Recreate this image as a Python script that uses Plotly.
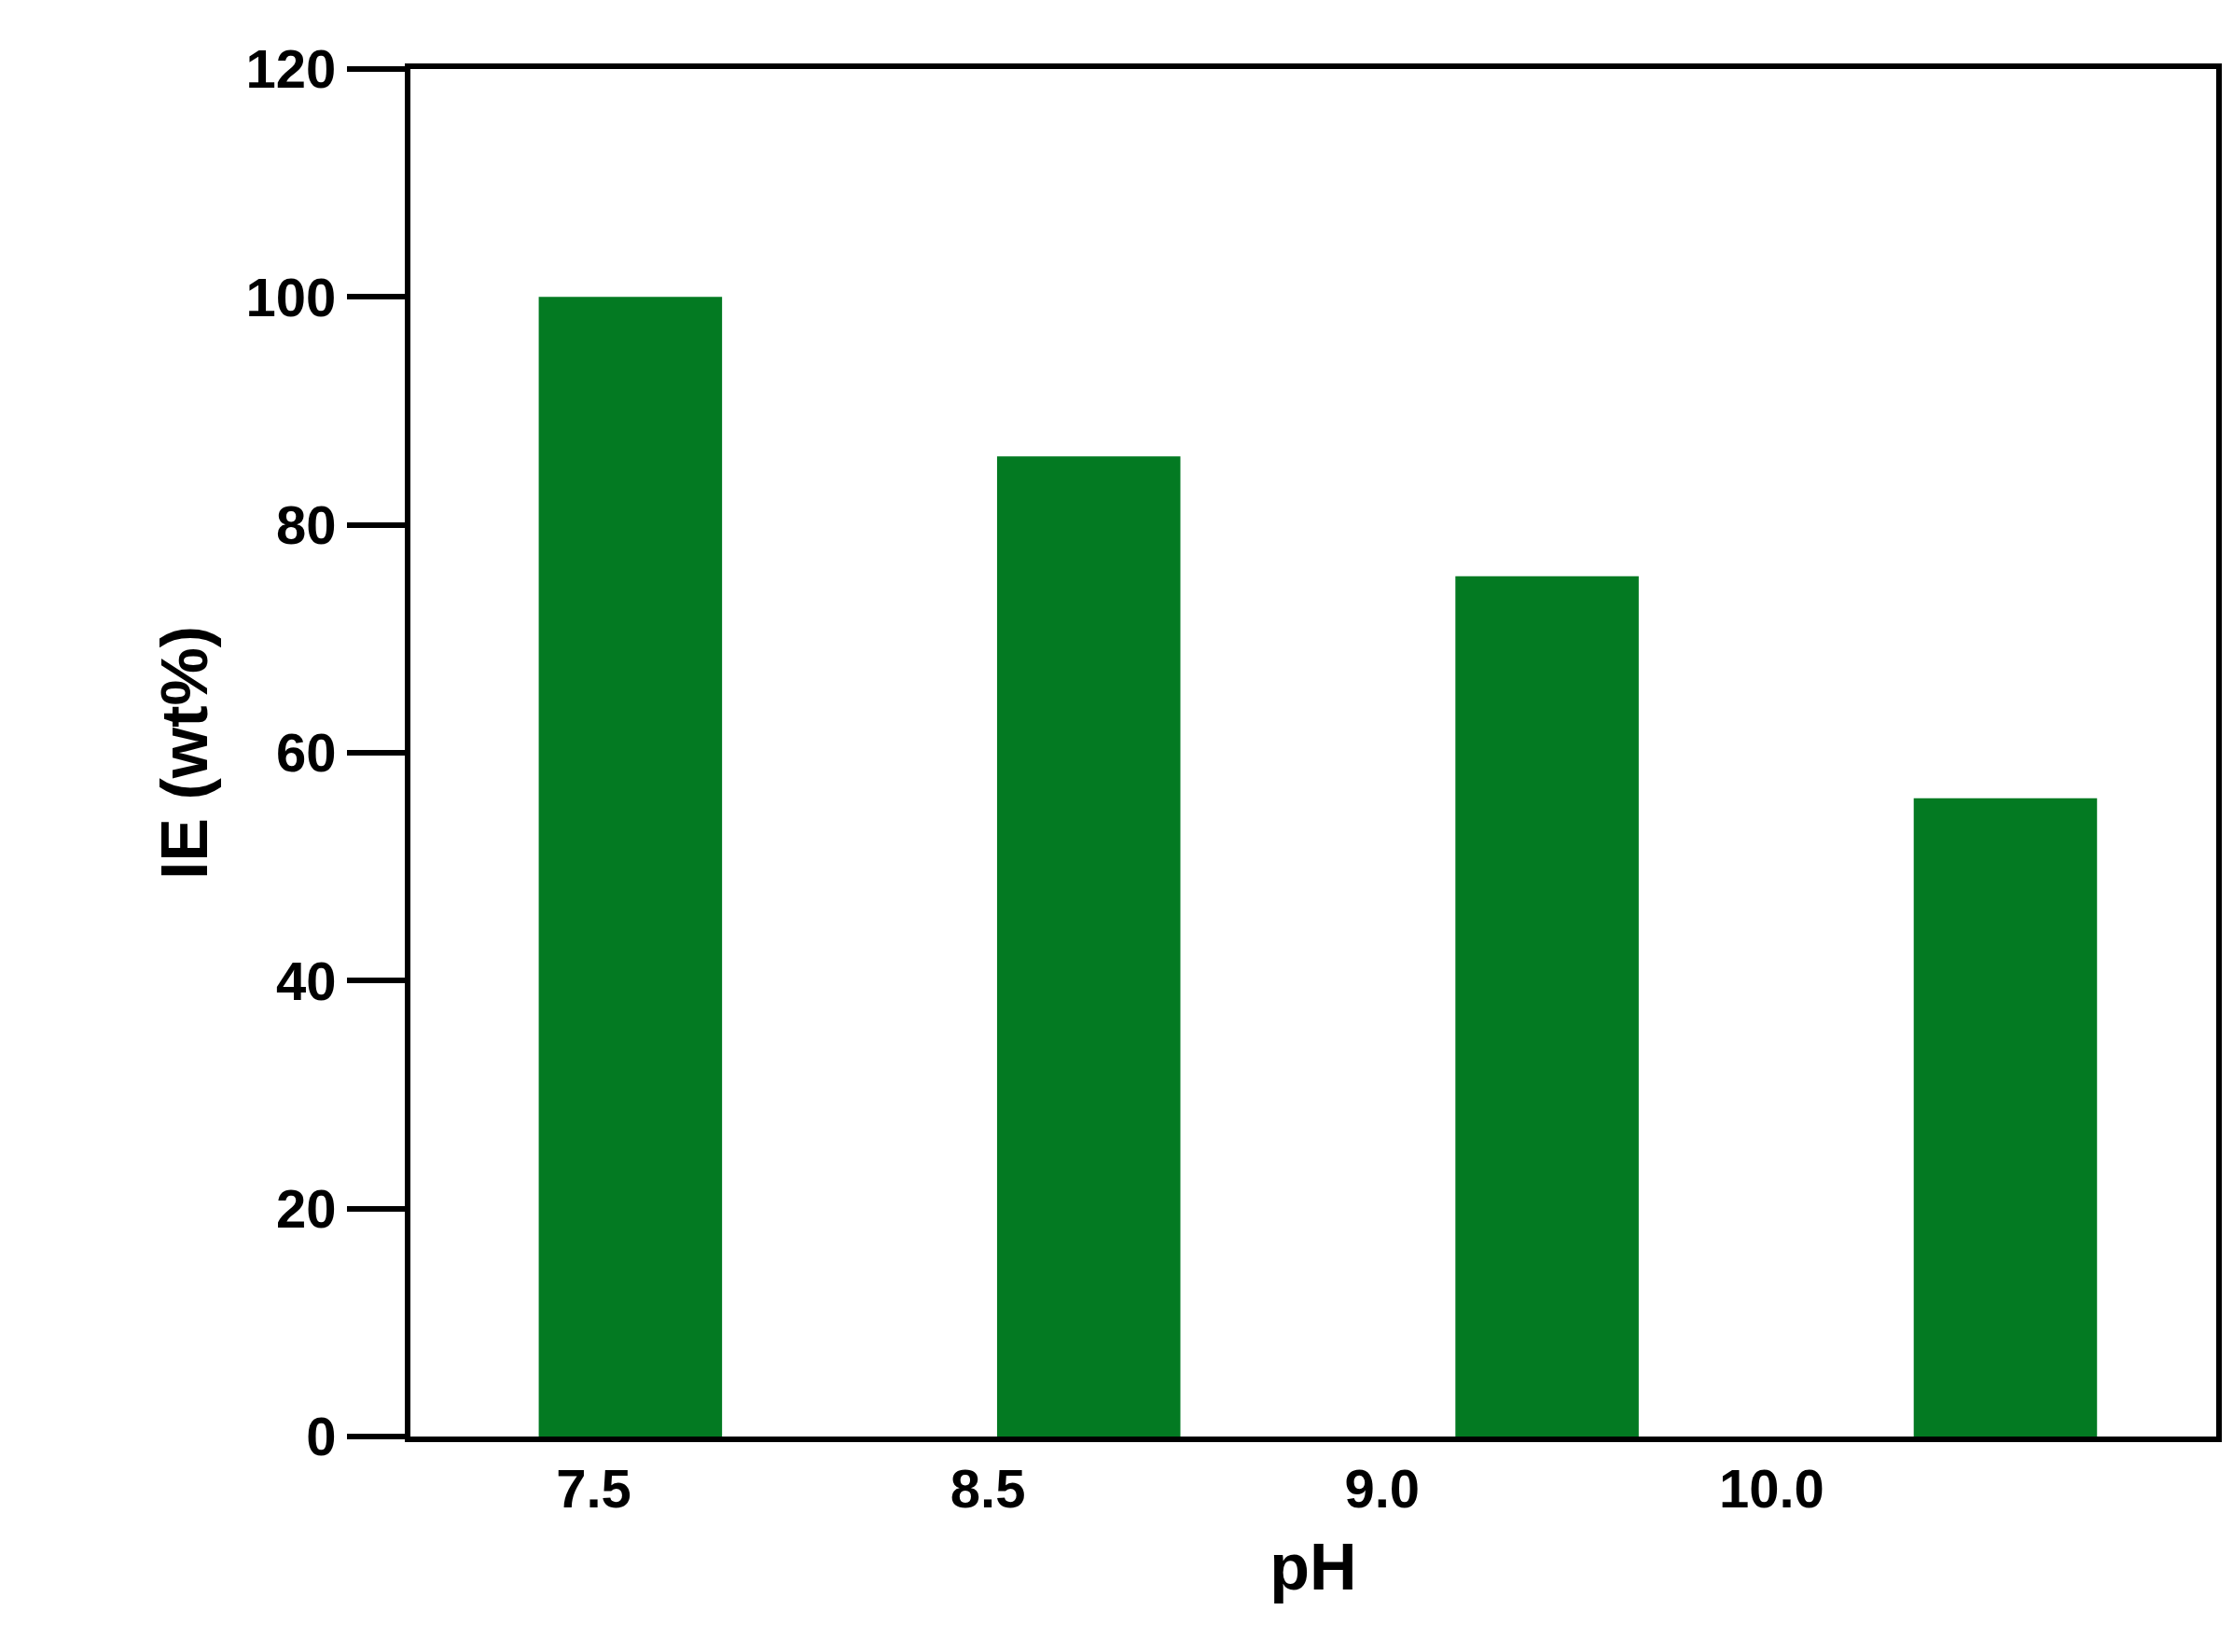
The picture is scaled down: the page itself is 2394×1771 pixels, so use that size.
import plotly.graph_objects as go

ph_labels = ["7.5", "8.5", "9.0", "10.0"]
ie_values = [100, 86, 75.5, 56]
bar_pos = [0, 1, 2, 3]
tick_pos = [-0.08, 0.78, 1.64, 2.49]

fig = go.Figure(go.Bar(x=bar_pos, y=ie_values, width=0.4, marker=dict(color="#037A22", line=dict(width=0))))
font = dict(family="Liberation Sans, Arial", size=58, color="black")
fig.update_layout(
    width=2394, height=1771, paper_bgcolor="white", plot_bgcolor="white",
    margin=dict(l=432, r=26, t=66, b=239), showlegend=False,
    font=font,
)
fig.update_xaxes(range=[-0.48, 3.46], tickvals=tick_pos, ticktext=[f"<b>{t}</b>" for t in ph_labels],
                 showline=True, linewidth=6, linecolor="black", mirror=True, ticks="", showgrid=False,
                 title=dict(text="<b>pH</b>", standoff=30), zeroline=False)
fig.update_yaxes(range=[0, 120], tickvals=[0, 20, 40, 60, 80, 100, 120],
                 ticktext=[f"<b>{v}</b>" for v in [0, 20, 40, 60, 80, 100, 120]],
                 showline=True, linewidth=6, linecolor="black", mirror=True, ticks="outside",
                 ticklen=62, tickwidth=6, tickcolor="black", showgrid=False, zeroline=False,
                 title=dict(text="<b>IE (wt%)</b>", standoff=20))
fig.write_html("out.html")
